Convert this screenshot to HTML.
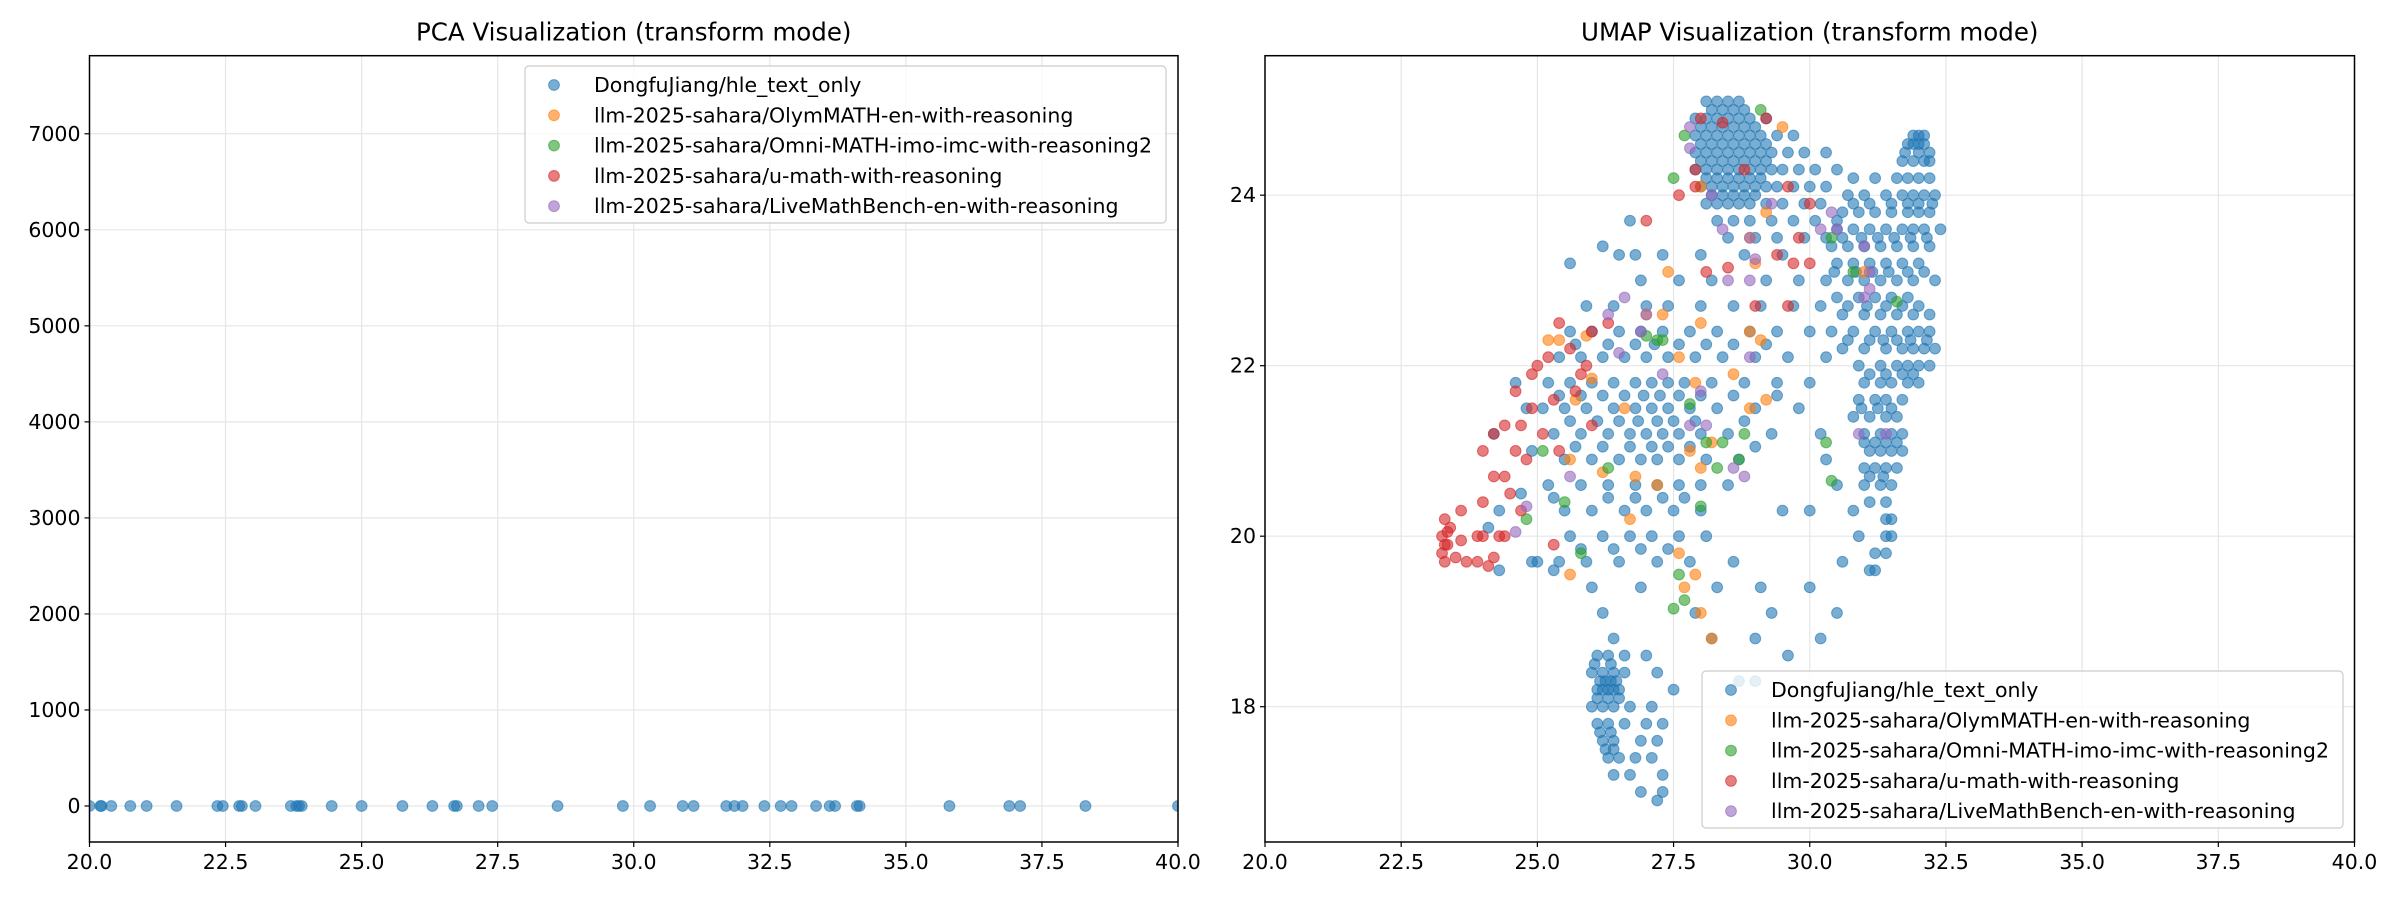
<!DOCTYPE html>
<html><head><meta charset="utf-8"><style>
html,body{margin:0;padding:0;background:#fff}
svg{display:block;font-family:"DejaVu Sans","Liberation Sans",sans-serif}
</style></head><body>
<svg id="fig" width="2400" height="900" viewBox="0 0 2400 900" xmlns="http://www.w3.org/2000/svg"></svg>
<script>
// ---- data ----
const seriesNames = ["DongfuJiang/hle_text_only","llm-2025-sahara/OlymMATH-en-with-reasoning","llm-2025-sahara/Omni-MATH-imo-imc-with-reasoning2","llm-2025-sahara/u-math-with-reasoning","llm-2025-sahara/LiveMathBench-en-with-reasoning"];
const seriesColors = ["#1f77b4","#ff7f0e","#2ca02c","#d62728","#9467bd"];
const xTicks = [20.0,22.5,25.0,27.5,30.0,32.5,35.0,37.5,40.0];
const pcaYTicks = [0,1000,2000,3000,4000,5000,6000,7000];
const umapYTicks = [18,20,22,24];
const pcaBlueX = [20.0,20.2,20.22,20.4,20.75,21.05,21.6,22.35,22.45,22.75,22.8,23.05,23.7,23.8,23.85,23.9,24.45,25.0,25.75,26.3,26.7,26.75,27.15,27.4,28.6,29.8,30.3,30.9,31.1,31.7,31.85,32.0,32.4,32.7,32.9,33.35,33.6,33.7,34.1,34.15,35.8,36.9,37.1,38.3,40.0];
const pcaBlueY = pcaBlueX.map(()=>0);
// UMAP blue rows: [y, x, x, ...]
const umapBlueRows = [
[25.1,28.1,28.3,28.5,28.7],
[24.9,27.9,28.1,28.3,28.5,28.7,28.9,29.2],
[24.7,27.9,28.1,28.3,28.5,28.7,28.9,29.1,29.4,29.7],
[24.5,27.9,28.1,28.3,28.5,28.7,28.9,29.1,29.3,29.6,29.9,30.3],
[24.3,27.9,28.1,28.3,28.5,28.7,28.9,29.1,29.3,29.5,29.8,30.1,30.5],
[24.1,28.0,28.2,28.4,28.6,28.8,29.0,29.2,29.4,29.7,30.0,30.3],
[23.9,28.1,28.3,28.5,28.7,28.9,29.2,29.5,29.9,30.2],
[23.7,28.3,28.6,28.9,29.3,29.7,30.1,30.5],
[23.5,28.5,29.0,29.4,29.9,30.3],
[25.0,28.2,28.4,28.6,28.8],[24.8,28.0,28.2,28.4,28.6,28.8,29.0],[24.6,28.0,28.2,28.4,28.6,28.8,29.0,29.2],[24.4,28.0,28.2,28.4,28.6,28.8,29.0,29.2],[24.2,28.1,28.3,28.5,28.7,28.9,29.1],[24.0,28.2,28.4,28.6,28.8,29.0],
[24.7,31.9,32.0,32.1],
[24.6,31.8,31.9,32.0,32.1],
[24.4,31.7,31.9,32.1,32.2],
[24.2,30.8,31.2,31.6,31.8,32.0,32.2],
[24.0,30.7,31.0,31.4,31.7,31.9,32.1,32.3],
[23.8,30.6,30.9,31.2,31.5,31.8,32.0,32.2],
[23.6,30.5,30.8,31.1,31.4,31.7,31.9,32.1,32.4],
[23.4,30.4,30.7,31.0,31.3,31.6,31.9,32.2],
[23.2,30.5,30.8,31.1,31.4,31.7,32.0],
[23.0,30.3,30.7,31.0,31.3,31.6,31.9,32.3],
[22.8,30.5,30.9,31.2,31.5,31.8],
[22.6,30.6,31.0,31.3,31.6,31.9,32.2],
[22.4,30.4,30.8,31.2,31.5,31.8,32.0,32.2],
[22.2,30.6,31.0,31.4,31.7,31.9,32.1,32.3],
[22.0,30.9,31.3,31.6,31.8,32.0,32.2],
[21.8,31.0,31.3,31.5,31.8,32.0],
[21.6,30.9,31.2,31.4,31.7],
[21.4,30.8,31.1,31.4,31.6],
[21.2,31.0,31.3,31.5,31.7],
[21.0,31.1,31.3,31.5,31.7],
[20.8,31.0,31.2,31.4,31.6],
[20.6,31.0,31.3,31.5],
[20.4,31.1,31.4],
[20.2,31.4,31.5],
[20.0,31.4,31.5],
[19.8,31.2,31.4],
[19.6,31.1,31.2],
[24.5,31.75,32.0,32.2],
[23.9,30.8,31.1,31.5,31.8,32.0,32.25],
[23.5,30.6,30.95,31.25,31.55,31.85,32.15],
[23.1,30.45,30.85,31.15,31.45,31.8,32.1],
[22.7,30.7,31.05,31.4,31.7,32.0],
[22.3,30.7,31.1,31.35,31.6,31.85,32.15],
[21.9,31.1,31.4,31.7,31.9],
[21.5,30.95,31.25,31.5],
[21.1,31.0,31.2,31.4,31.6],
[20.7,31.1,31.35],
[23.3,26.5,26.8,27.3,28.0,28.8,29.5],
[23.0,26.9,27.6,28.2,29.2,29.8],
[22.7,25.9,26.4,27.0,27.4,28.0,28.6,29.1,29.7,30.2],
[22.4,25.6,26.0,26.5,26.9,27.3,27.8,28.3,28.9,29.4,30.0],
[22.1,25.4,25.8,26.2,26.6,27.0,27.4,27.9,28.4,29.0,29.6,30.3],
[21.8,25.2,25.6,26.0,26.4,26.8,27.1,27.4,27.7,28.2,28.8,29.4,30.0],
[21.5,25.1,25.5,25.9,26.4,26.8,27.1,27.4,27.8,28.3,29.0,29.8],
[21.2,25.3,25.8,26.3,26.7,27.0,27.3,27.6,28.0,28.5,29.3,30.2],
[20.9,25.5,26.0,26.5,26.9,27.2,27.6,28.1,28.7,30.3],
[20.6,25.2,25.8,26.3,26.8,27.2,27.6,28.0,28.5,30.5],
[20.3,25.5,26.0,26.6,27.0,27.5,28.0,29.5,30.0,30.8],
[20.0,25.6,26.2,26.7,27.1,27.6,28.1,30.9],
[19.7,25.0,25.4,25.9,26.5,27.2,27.8,28.6,30.6],
[19.4,26.0,26.9,28.3,29.1,30.0],
[19.1,26.2,27.9,29.3,30.5],
[18.8,26.4,28.2,29.0,30.2],
[22.25,25.7,26.3,26.8,27.15,27.6,28.1,28.6,29.2],
[21.65,25.4,25.8,26.2,26.6,26.95,27.25,27.6,28.0,28.6,29.4],
[21.35,25.6,26.1,26.5,26.85,27.2,27.5,27.9,28.8],
[21.05,25.7,26.2,26.7,27.1,27.4,27.8,29.0],
[20.45,25.3,26.3,26.8,27.3,27.7],
[19.85,25.8,26.4,26.9,27.4],
[18.6,26.1,26.3,26.6,27.0],
[18.4,26.0,26.2,26.4,26.6,27.2],
[18.2,26.1,26.2,26.3,26.4,26.5,27.5],
[18.0,26.0,26.2,26.4,26.7,27.1],
[17.8,26.1,26.3,26.6,27.0,27.3],
[17.6,26.2,26.4,26.9,27.2],
[17.4,26.3,26.5,26.8,27.1],
[17.2,26.4,26.7,27.3],
[17.0,26.9,27.3],
[16.9,27.2],
[18.5,26.05,26.35],[18.3,26.15,26.25,26.35,26.45],[18.1,26.1,26.3,26.5],[17.7,26.15,26.35],[17.5,26.25,26.4]
];
const umapBlueExtra = [[24.1,20.1],[24.3,20.3],[24.6,21.8],[24.8,21.5],[24.2,21.2],[24.7,20.5],[24.9,19.7],[25.3,19.6],[24.9,21.0],[24.3,19.6],[28.7,18.3],[29.0,18.3],[29.6,18.6],[25.6,23.2],[26.2,23.4],[26.7,23.7]];
const umapOrange = [[25.2,22.3],[25.4,22.3],[25.9,22.35],[26.0,21.85],[25.7,21.6],[26.6,21.5],[25.6,20.9],[26.2,20.75],[26.8,20.7],[27.2,20.6],[26.7,20.2],[27.4,23.1],[27.3,22.6],[27.0,22.6],[27.6,22.1],[28.0,22.5],[27.9,21.8],[28.6,21.9],[28.9,22.4],[29.1,22.3],[28.9,21.5],[29.2,21.6],[28.2,21.1],[27.8,21.0],[28.0,20.8],[27.6,19.8],[27.7,19.4],[27.9,19.55],[28.0,19.1],[28.2,18.8],[25.6,19.55],[28.0,24.1],[28.9,23.5],[29.2,23.8],[29.5,24.8],[31.0,23.1],[29.0,23.2]];
const umapGreen = [[27.0,22.35],[27.2,22.3],[27.3,22.3],[27.8,21.55],[28.1,21.1],[28.4,21.1],[28.3,20.8],[28.8,21.2],[28.7,20.9],[27.6,19.55],[27.7,19.25],[27.5,19.15],[25.8,19.8],[25.5,20.4],[24.8,20.2],[25.1,21.0],[26.3,20.8],[28.0,20.35],[30.3,21.1],[30.4,20.65],[31.6,22.75],[30.8,23.1],[30.4,23.5],[27.5,24.2],[27.7,24.7],[29.1,25.0]];
const umapRed = [[23.25,19.8],[23.25,20.0],[23.3,20.2],[23.35,19.9],[23.4,20.1],[23.3,19.7],[23.5,19.75],[23.6,19.95],[23.7,19.7],[23.9,19.7],[24.0,20.0],[24.1,19.65],[24.2,19.75],[23.9,20.0],[23.6,20.3],[24.0,20.4],[24.3,20.0],[23.3,19.9],[23.35,20.05],[24.2,20.7],[24.4,20.7],[24.0,21.0],[24.2,21.2],[24.4,21.3],[24.6,21.0],[24.7,21.3],[24.6,21.7],[24.9,21.5],[24.8,20.9],[24.7,20.3],[24.5,20.5],[25.0,22.0],[25.2,22.1],[24.9,21.9],[25.3,21.6],[25.1,21.2],[25.4,21.0],[25.4,22.5],[25.6,22.2],[25.7,21.7],[25.8,21.9],[26.0,22.4],[25.9,22.0],[26.3,22.5],[24.4,20.0],[25.3,19.9],[26.0,21.3],[27.0,23.7],[27.6,24.0],[27.9,24.3],[27.9,24.1],[28.0,24.9],[28.4,24.85],[29.2,24.9],[28.8,24.3],[29.6,24.1],[30.0,23.9],[29.8,23.5],[29.4,23.3],[30.0,23.2],[29.7,23.2],[29.6,22.7],[28.5,23.15],[29.0,22.7],[28.1,23.1]];
const umapPurple = [[27.8,24.8],[27.8,24.55],[28.2,24.0],[29.3,23.9],[29.0,23.25],[28.9,23.0],[28.5,23.0],[28.9,23.5],[30.2,23.6],[30.4,23.8],[30.5,23.6],[31.0,23.4],[31.0,22.8],[31.1,22.9],[31.1,23.1],[27.0,22.6],[26.9,22.4],[26.3,22.6],[26.6,22.8],[26.5,22.15],[27.3,21.9],[28.0,21.7],[27.8,21.3],[28.1,21.3],[28.9,22.1],[28.6,20.8],[28.8,20.7],[25.6,20.7],[24.8,20.35],[24.6,20.05],[30.9,21.2],[31.4,21.2],[28.4,23.6]];

// ---- drawing ----
const NS="http://www.w3.org/2000/svg";
const svg=document.getElementById('fig');
function mk(tag,attrs,parent){const e=document.createElementNS(NS,tag);for(const k in attrs)e.setAttribute(k,attrs[k]);(parent||svg).appendChild(e);return e;}
const R=5.4;
function drawAxes(cfg){
  const {x0,x1,y0,y1,xmin,xmax,ymin,ymax,yTicks,yFmt,title,key}=cfg;
  const sx=v=>x0+(v-xmin)/(xmax-xmin)*(x1-x0);
  const sy=v=>y1-(v-ymin)/(ymax-ymin)*(y1-y0);
  const g=mk('g',{});
  
  
  const clipId=key+'-clip';
  const cp=mk('clipPath',{id:clipId},g);mk('rect',{x:x0,y:y0,width:x1-x0,height:y1-y0},cp);
  xTicks.forEach(t=>{
    const l=mk('line',{x1:sx(t),x2:sx(t),y1:y0,y2:y1,stroke:'#e6e6e6','stroke-width':1.2},g);
    
    mk('line',{x1:sx(t),x2:sx(t),y1:y1,y2:y1+5,stroke:'#000','stroke-width':1.2},g);
    const tx=mk('text',{x:sx(t),y:y1+27,'text-anchor':'middle','font-size':20.5,fill:'#000'},g);
    tx.textContent=t.toFixed(1);
    
  });
  yTicks.forEach(t=>{
    const l=mk('line',{x1:x0,x2:x1,y1:sy(t),y2:sy(t),stroke:'#e6e6e6','stroke-width':1.2},g);
    
    mk('line',{x1:x0-5,x2:x0,y1:sy(t),y2:sy(t),stroke:'#000','stroke-width':1.2},g);
    const tx=mk('text',{x:x0-9,y:sy(t)+7,'text-anchor':'end','font-size':20.5,fill:'#000'},g);
    tx.textContent=yFmt(t);
    
  });
  const tt=mk('text',{x:(x0+x1)/2,y:y0-15,'text-anchor':'middle','font-size':24.5,fill:'#000'},g);
  tt.textContent=title;
  
  const pts=mk('g',{'clip-path':'url(#'+clipId+')'},g);
  
  return {sx,sy,pts,g,cfg};
}
function dot(ax,x,y,ci){
  const c=mk('circle',{cx:ax.sx(x),cy:ax.sy(y),r:R,fill:seriesColors[ci],'fill-opacity':0.6,stroke:seriesColors[ci],'stroke-opacity':0.6,'stroke-width':1},ax.pts);
  
  
}
function frame(ax){
  const {x0,x1,y0,y1}=ax.cfg;
  const f=mk('rect',{x:x0,y:y0,width:x1-x0,height:y1-y0,fill:'none',stroke:'#000','stroke-width':1.5},ax.g);
  
}
function legend(ax,lx,ly,w,h,key){
  const lg=mk('g',{},ax.g);
  
  mk('rect',{x:lx,y:ly,width:w,height:h,rx:4,fill:'#fff','fill-opacity':0.8,stroke:'#cccccc','stroke-width':1.2},lg);
  seriesNames.forEach((n,i)=>{
    const yy=ly+19+i*30.3;
    const e=mk('g',{},lg);
    
    mk('circle',{cx:lx+29,cy:yy,r:R,fill:seriesColors[i],'fill-opacity':0.6,stroke:seriesColors[i],'stroke-opacity':0.6},e);
    const t=mk('text',{x:lx+69,y:yy+7,'font-size':20.5,fill:'#000'},e);
    t.textContent=n;
  });
}
// PCA
const pca=drawAxes({key:'pca',x0:89.5,x1:1178,y0:55.7,y1:842,xmin:20,xmax:40,ymin:-375,ymax:7813,yTicks:pcaYTicks,yFmt:t=>String(t),title:'PCA Visualization (transform mode)'});
pcaBlueX.forEach((x,i)=>dot(pca,x,pcaBlueY[i],0));
frame(pca);
legend(pca,525,66,641,157,'pca');
// UMAP
const umap=drawAxes({key:'umap',x0:1265,x1:2354.5,y0:55.7,y1:842,xmin:20,xmax:40,ymin:16.413,ymax:25.636,yTicks:umapYTicks,yFmt:t=>String(t),title:'UMAP Visualization (transform mode)'});
umapBlueRows.forEach(r=>{for(let i=1;i<r.length;i++)dot(umap,r[i],r[0],0);});
umapBlueExtra.forEach(p=>dot(umap,p[0],p[1],0));
umapOrange.forEach(p=>dot(umap,p[0],p[1],1));
umapGreen.forEach(p=>dot(umap,p[0],p[1],2));
umapRed.forEach(p=>dot(umap,p[0],p[1],3));
umapPurple.forEach(p=>dot(umap,p[0],p[1],4));
frame(umap);
legend(umap,1702,671,641,157,'umap');
</script>
</body></html>
